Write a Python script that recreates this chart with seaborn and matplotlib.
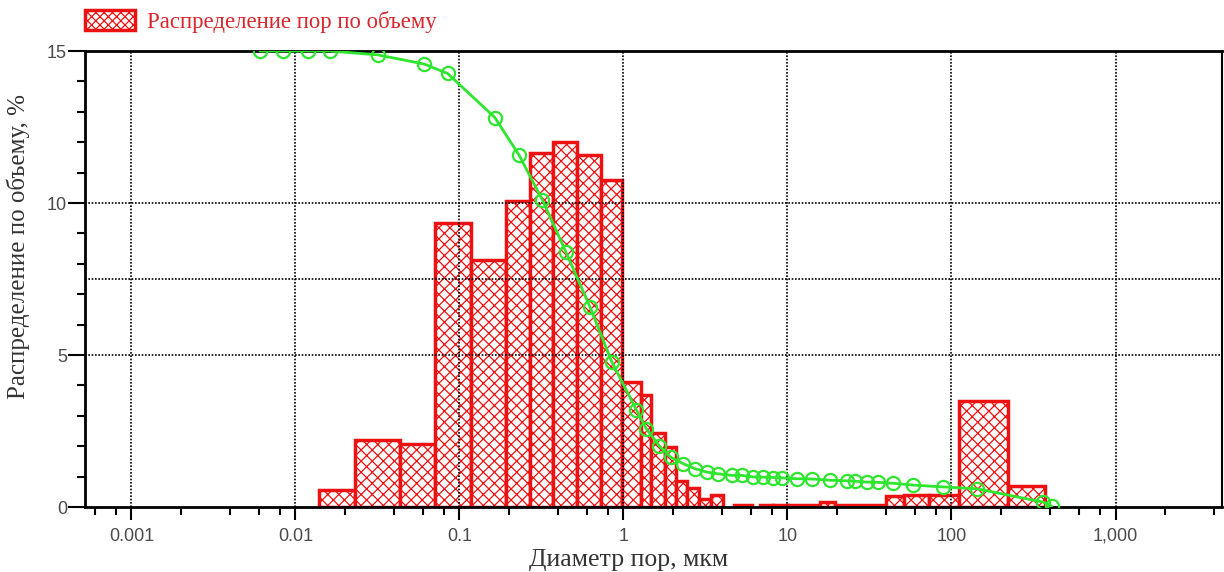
import numpy as np
import matplotlib
matplotlib.use("Agg")
import matplotlib.pyplot as plt
from matplotlib.patches import Patch
from matplotlib.ticker import FixedLocator, FixedFormatter, LogLocator, MultipleLocator, NullFormatter
import seaborn as sns

# границы столбцов гистограммы (мкм) и их высоты (%)
bin_edges = [0.0139, 0.0231, 0.0434, 0.0709, 0.1175, 0.192, 0.269, 0.372, 0.520, 0.729,
             0.986, 1.28, 1.47, 1.79, 2.09, 2.44, 2.89, 3.42, 4.04, 4.72, 6.08, 6.80,
             8.15, 10.07, 15.8, 19.5, 39.9, 51.3, 73.2, 111.6, 222, 372]
bin_heights = [0.57, 2.19, 2.08, 9.34, 8.14, 10.07, 11.66, 12.0, 11.58, 10.77,
               4.1, 3.67, 2.45, 1.97, 0.87, 0.63, 0.26, 0.38, 0, 0.08, 0,
               0.07, 0.05, 0.05, 0.16, 0.07, 0.35, 0.38, 0.38, 3.48, 0.68]

# зелёная кривая (точки)
curve_d = [0.00608, 0.00843, 0.01186, 0.0162, 0.032, 0.061, 0.0847, 0.1645, 0.2306, 0.3207,
           0.4457, 0.625, 0.848, 1.2, 1.38, 1.65, 1.94, 2.32, 2.73, 3.21, 3.79, 4.57, 5.25,
           6.17, 7.11, 8.19, 9.22, 11.4, 14.1, 18.2, 23.0, 25.8, 30.4, 35.8, 44.2, 58.5,
           89.1, 142.5, 363, 408]
curve_v = [15, 15, 15, 15, 14.87, 14.57, 14.26, 12.81, 11.58, 10.1,
           8.39, 6.58, 4.78, 3.19, 2.57, 2.02, 1.64, 1.42, 1.26, 1.15, 1.09, 1.04, 1.04,
           0.99, 0.98, 0.97, 0.96, 0.93, 0.92, 0.88, 0.86, 0.85, 0.82, 0.81, 0.78, 0.72,
           0.66, 0.60, 0.16, 0.03]

x_major = [0.001, 0.01, 0.1, 1, 10, 100, 1000]
x_labels = ["0.001", "0.01", "0.1", "1", "10", "100", "1,000"]
y_major = [0, 5, 10, 15]
y_grid = [5, 7.5, 10]

RED = "#ee1111"
TXT_RED = "#d9272e"
GREEN = "#2ee62e"

sns.set_style("white")
plt.rcParams["font.family"] = ["Liberation Sans", "DejaVu Sans"]
plt.rcParams["hatch.color"] = RED
plt.rcParams["hatch.linewidth"] = 0.9

fig = plt.figure(figsize=(12.24, 5.72), dpi=100)
ax = fig.add_axes([85 / 1224, 1 - 507 / 572, (1222 - 85) / 1224, (507 - 51) / 572])

edges = np.array(bin_edges)
mids = np.sqrt(edges[:-1] * edges[1:])
log_bins = list(np.log10(edges))
sns.histplot(x=list(mids), weights=bin_heights, bins=log_bins, log_scale=True,
             ax=ax, color=RED, element="bars")
for p in list(ax.patches):
    if p.get_height() <= 0:
        p.remove()
        continue
    p.set_facecolor("white")
    p.set_alpha(1)
    p.set_edgecolor(RED)
    p.set_linewidth(2.5)
    p.set_hatch("xxx")
    p.set_zorder(1)

# сетка
for d in x_major:
    ax.axvline(d, color="black", ls=(0, (1, 1)), lw=1.2, zorder=1.5)
for v in y_grid:
    ax.axhline(v, color="black", ls=(0, (1, 1)), lw=1.2, zorder=1.5)

sns.lineplot(x=curve_d, y=curve_v, ax=ax, color=GREEN, lw=2, marker="o", ms=9.5,
             markerfacecolor="none", markeredgecolor=GREEN, markeredgewidth=1.6,
             sort=False, estimator=None, zorder=3)

ax.set_xlim(0.000521, 4460)
ax.set_ylim(0, 15)
ax.xaxis.set_major_locator(FixedLocator(x_major))
ax.xaxis.set_major_formatter(FixedFormatter(x_labels))
ax.xaxis.set_minor_locator(LogLocator(base=10, subs=[2, 4, 6, 8], numticks=20))
ax.xaxis.set_minor_formatter(NullFormatter())
ax.yaxis.set_major_locator(FixedLocator(y_major))
ax.yaxis.set_minor_locator(MultipleLocator(1))

ax.tick_params(axis="both", which="both", direction="out", colors="black",
               labelcolor="#4a4a4a", labelsize=13, width=1.5)
ax.tick_params(axis="y", which="major", length=12, pad=1, left=True)
ax.tick_params(axis="y", which="minor", length=6, left=True)
ax.tick_params(axis="x", which="major", length=9, pad=6, bottom=True)
ax.tick_params(axis="x", which="minor", length=6, bottom=True)

for s in ["left", "bottom", "top"]:
    ax.spines[s].set_color("black")
    ax.spines[s].set_linewidth(2)
ax.spines["right"].set_color("black")
ax.spines["right"].set_linewidth(1.5)

ax.set_xlabel("Диаметр пор, мкм", family=["Liberation Serif", "DejaVu Serif"],
              fontsize=18.5, color="#333333")
ax.xaxis.set_label_coords(0.478, -0.092)
ax.set_ylabel("Распределение по объему, %", family=["Liberation Serif", "DejaVu Serif"],
              fontsize=18, color="#333333")
ax.yaxis.set_label_coords(-0.048, 0.572)

handle = Patch(facecolor="white", edgecolor=RED, hatch="xxxx", lw=2.5)
fig.legend(handles=[handle], labels=["Распределение пор по объему"], loc="upper left",
           bbox_to_anchor=(80 / 1224, 1 - 5 / 572), frameon=False,
           prop={"family": "Liberation Serif", "size": 16.4}, labelcolor=TXT_RED,
           handlelength=2.2, handleheight=1.0, handletextpad=0.55, borderpad=0.2,
           borderaxespad=0)

fig.savefig("out.png", dpi=100)
